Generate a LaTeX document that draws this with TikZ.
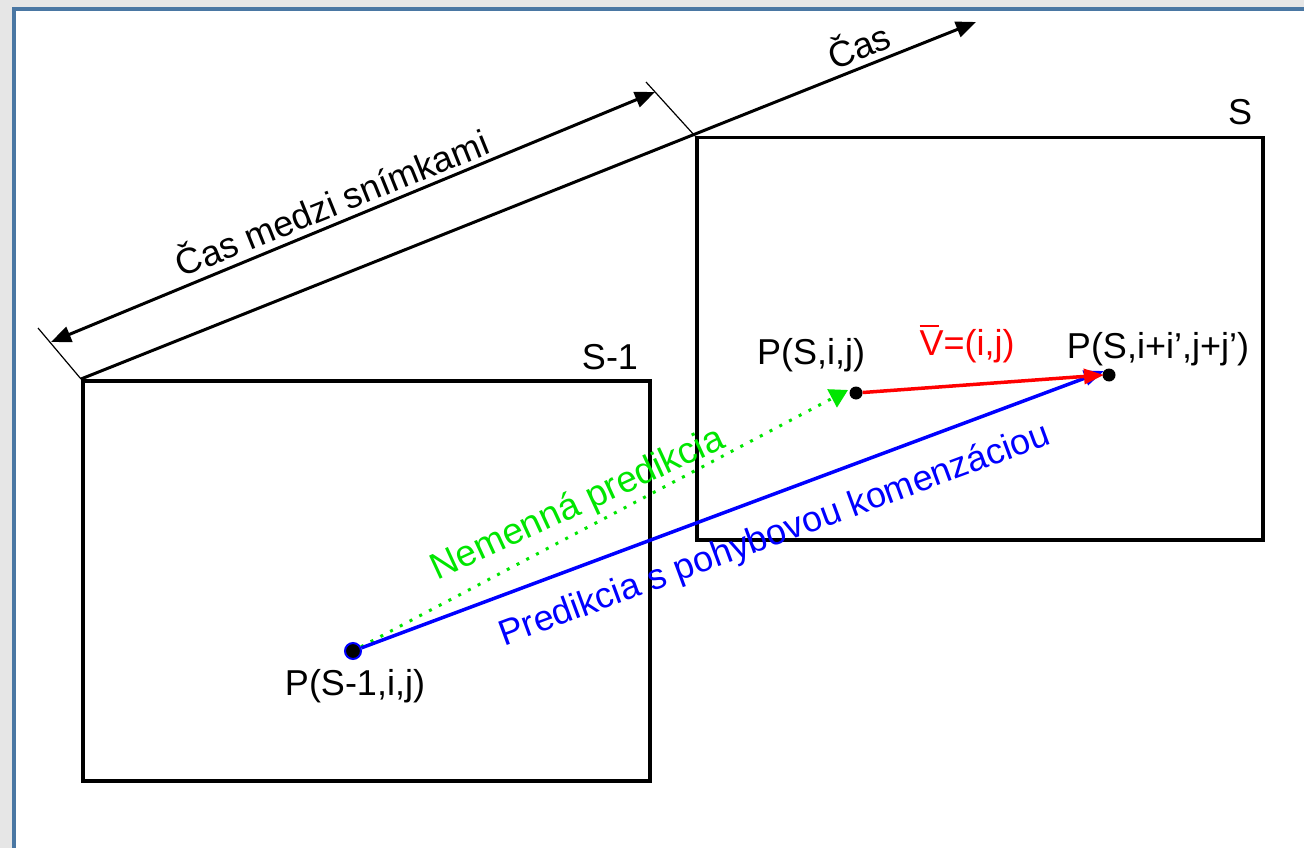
\documentclass[tikz,border=0pt]{standalone}
\usepackage{fontspec}
\setmainfont{Liberation Sans}
\usetikzlibrary{arrows.meta}
\definecolor{framegray}{HTML}{E6E6E6}
\definecolor{frameblue}{HTML}{4A77A3}
\definecolor{pgreen}{HTML}{00E600}
\tikzset{
  frame/.style={draw=black, line width=3.5pt},
  lbl/.style={inner sep=0pt, font=\fontsize{36}{40}\selectfont},
  axis/.style={line width=3pt, -{Triangle[length=20pt,width=16pt]}},
  tick/.style={line width=1.2pt},
  pt/.style={circle, fill=black, inner sep=0pt, minimum size=13pt},
}
\begin{document}
\begin{tikzpicture}[x=1pt,y=-1pt]
\useasboundingbox (0,0) rectangle (1304,848);
\fill[framegray] (0,0) rectangle (1304,848);
\fill[white] (14,9) rectangle (1304,848);
\draw[frameblue, line width=3.5pt] (14,848) -- (14,9) -- (1304,9);

% frames
\node[frame, minimum width=567pt, minimum height=400pt, anchor=north west, inner sep=0pt] (f1) at (81,379) {};
\node[frame, minimum width=566pt, minimum height=402pt, anchor=north west, inner sep=0pt] (f2) at (695,136) {};
\node[lbl] (l1) at (610,357) {S-1};
\node[lbl] (l2) at (1240,112) {S};

% time axis
\coordinate (tend) at (976,22);
\draw[axis] (f1.north west) -- (tend);
\node[lbl, rotate=22] (cas) at (858,44) {Čas};

% dimension
\coordinate (t1a) at (38,328);
\coordinate (t2a) at (646,82);
\draw[tick] (t1a) -- (f1.north west);
\draw[tick] (t2a) -- (f2.north west);
\coordinate (d1) at (51,342);
\coordinate (d2) at (655,92);
\draw[line width=3pt, {Triangle[length=20pt,width=16pt]}-{Triangle[length=20pt,width=16pt]}] (d1) -- (d2);
\node[lbl, rotate=22] (dim) at (331,201) {Čas medzi snímkami};

% points
\node[pt, draw=blue, line width=2pt, minimum size=16pt] (p0) at (353,651) {};
\node[pt] (p1) at (856,393) {};
\node[pt] (p2) at (1109,375) {};
\node[lbl] (p0l) at (355,686) {P(S-1,i,j)};
\node[lbl] (p1l) at (811,355) {P(S,i,j)};
\node[lbl] (p2l) at (1158,349) {P(S,i+i’,j+j’)};
\node[lbl, text=red] (vl) at (967,344) {\rlap{\rule[0.8em]{0.55em}{1.5pt}}V=(i,j)};

% arrows
\draw[pgreen, line width=3pt, dash pattern=on 3pt off 8pt, -{Triangle[length=18pt,width=20pt]}] (p0) -- ([xshift=-8pt,yshift=3pt]p1.center);
\draw[blue, line width=3.5pt, -{Triangle[length=20pt,width=15pt]}] (p0) -- ([xshift=-5pt,yshift=4pt]p2.center);
\draw[red, line width=3.5pt, -{Triangle[length=20pt,width=15pt]}] (p1) -- ([xshift=-5pt]p2.center);

\node[lbl, text=pgreen, rotate=24.8, font=\fontsize{37}{40}\selectfont] (gl) at (578,505) {Nemenná predikcia};
\node[lbl, text=blue, rotate=20.3] (bl) at (775,536) {Predikcia s pohybovou komenzáciou};
\end{tikzpicture}
\end{document}
